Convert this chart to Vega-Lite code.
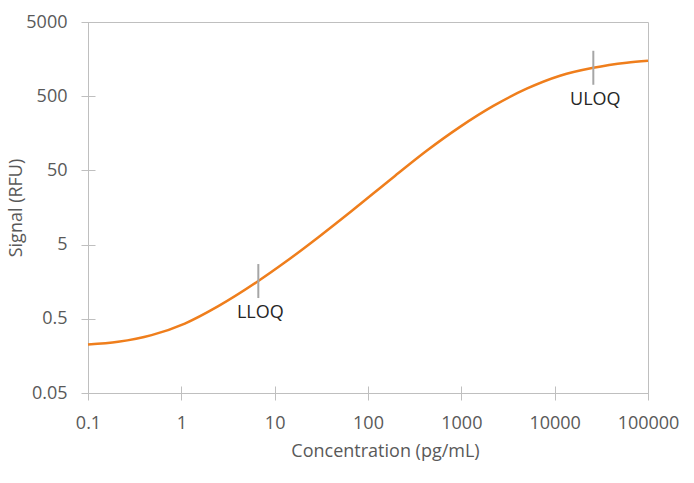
{
  "$schema": "https://vega.github.io/schema/vega-lite/v6.json",
  "width": 560,
  "height": 371,
  "autosize": {"type": "none"},
  "padding": {"left": 88, "top": 22, "right": 46, "bottom": 90},
  "background": "white",
  "config": {
    "font": "Open Sans",
    "view": {"stroke": "#bfbfbf", "strokeWidth": 1},
    "axis": {
      "grid": false,
      "domain": false,
      "offset": -7,
      "tickSize": 14,
      "tickColor": "#bfbfbf",
      "tickWidth": 1,
      "labelPadding": 14,
      "labelFont": "Open Sans",
      "labelFontSize": 18,
      "labelColor": "#595959",
      "labelFlush": false,
      "labelOverlap": false,
      "labelBound": false,
      "titleFont": "Open Sans",
      "titleFontSize": 18,
      "titleFontWeight": "normal",
      "titleColor": "#595959"
    }
  },
  "datasets": {
    "curve": [
      {"conc": 0.1, "signal": 0.225},
      {"conc": 0.21, "signal": 0.245},
      {"conc": 0.48, "signal": 0.301},
      {"conc": 1.09, "signal": 0.431},
      {"conc": 2.49, "signal": 0.74},
      {"conc": 6.68, "signal": 1.614},
      {"conc": 12.9, "signal": 2.884},
      {"conc": 29.4, "signal": 6.295},
      {"conc": 66.8, "signal": 14.19},
      {"conc": 187, "signal": 40.55},
      {"conc": 425, "signal": 92},
      {"conc": 968, "signal": 193.2},
      {"conc": 2203, "signal": 369.8},
      {"conc": 5012, "signal": 631},
      {"conc": 11400, "signal": 944},
      {"conc": 25950, "signal": 1208},
      {"conc": 59100, "signal": 1413},
      {"conc": 100000, "signal": 1503}
    ],
    "limits": [
      {"conc": 6.68, "signal": 1.614, "label": "LLOQ"},
      {"conc": 25950, "signal": 1208, "label": "ULOQ"}
    ]
  },
  "encoding": {
    "x": {
      "field": "conc",
      "type": "quantitative",
      "scale": {"type": "log", "domain": [0.1, 100000], "nice": false},
      "axis": {
        "title": "Concentration (pg/mL)",
        "values": [0.1, 1, 10, 100, 1000, 10000, 100000],
        "format": "~g",
        "titlePadding": 10,
        "titleX": 297
      }
    },
    "y": {
      "field": "signal",
      "type": "quantitative",
      "scale": {"type": "log", "domain": [0.05, 5000], "nice": false},
      "axis": {
        "title": "Signal (RFU)",
        "values": [0.05, 0.5, 5, 50, 500, 5000],
        "format": "~g",
        "titlePadding": 0
      }
    }
  },
  "layer": [
    {
      "data": {"name": "curve"},
      "mark": {"type": "line", "color": "#ef7e1c", "strokeWidth": 2.5, "interpolate": "monotone"}
    },
    {
      "data": {"name": "limits"},
      "mark": {"type": "tick", "orient": "vertical", "color": "#a6a6a6", "thickness": 2, "size": 34, "opacity": 1}
    },
    {
      "data": {"name": "limits"},
      "mark": {"type": "text", "dy": 32, "dx": 2, "fontSize": 18, "font": "Open Sans", "color": "#262626", "baseline": "middle", "align": "center"},
      "encoding": {"text": {"field": "label", "type": "nominal"}}
    }
  ]
}
